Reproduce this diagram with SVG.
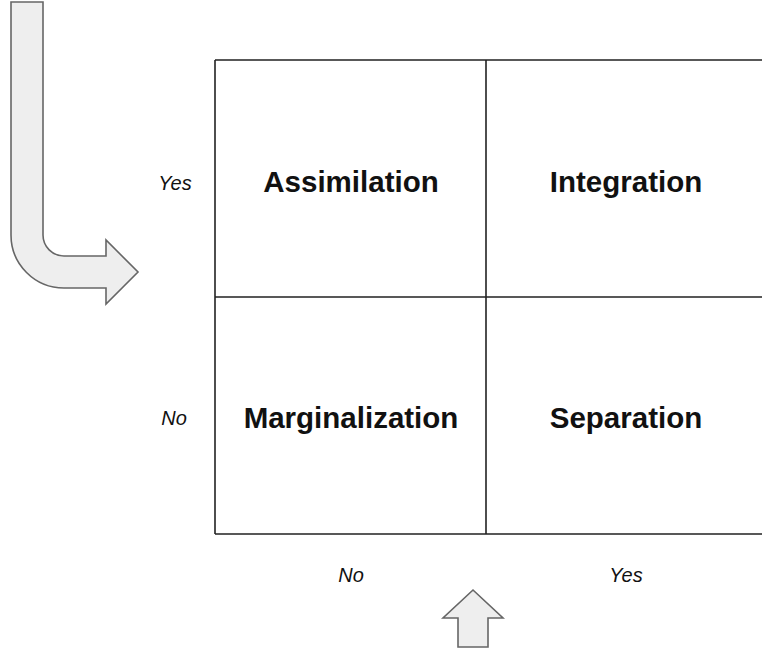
<svg xmlns="http://www.w3.org/2000/svg" width="762" height="650" viewBox="0 0 762 650">
<style>
.cell{font-family:"Liberation Sans",Arial,sans-serif;font-weight:bold;font-size:29.5px;fill:#111;text-anchor:middle}
.lab{font-family:"Liberation Sans",Arial,sans-serif;font-style:italic;font-size:20px;fill:#111;text-anchor:middle}
.arrow{fill:#eeeeee;stroke:#666;stroke-width:1.6;stroke-linejoin:miter}
.grid{stroke:#222;stroke-width:1.6;fill:none}
</style>
<rect width="762" height="650" fill="#fff"/>
<g id="connectors">
<path class="arrow" d="M11,2 H43 V235 A21,21 0 0 0 64,256 H106 V240 L138,272 L106,304 V288 H64 A53,53 0 0 1 11,235 Z"/>
<path class="arrow" d="M473,590 L503,618 H488 V647 H458 V618 H443 Z"/>
</g>
<g id="grid">
<path class="grid" d="M215,60 H762 M215,297 H762 M215,534 H762 M215,60 V534 M486,60 V534"/>
</g>
<g id="assimilation"><text class="cell" x="351" y="192">Assimilation</text></g>
<g id="integration"><text class="cell" x="626" y="192">Integration</text></g>
<g id="marginalization"><text class="cell" x="351" y="428">Marginalization</text></g>
<g id="separation"><text class="cell" x="626" y="428">Separation</text></g>
<g id="labels">
<text class="lab" x="175" y="190">Yes</text>
<text class="lab" x="174" y="425">No</text>
<text class="lab" x="351" y="582">No</text>
<text class="lab" x="626" y="582">Yes</text>
</g>
</svg>
